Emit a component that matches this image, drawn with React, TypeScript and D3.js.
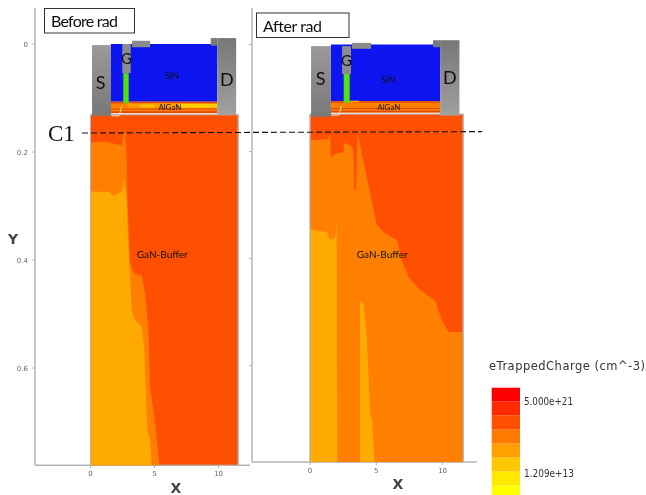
import React from "react";
import * as d3 from "d3";

type Pt = [number, number];
type Box = [number, number, number, number];

// Colour levels of eTrappedCharge (top of the scale first)
const legendColors = ["#ff0000", "#ff2a00", "#ff5000", "#ff7800", "#ffa000", "#ffc800", "#ffe800", "#ffff00"];
const legendLabels = ["5.000e+21", "1.209e+13"];
const xTicks = [0, 5, 10];
const yTicks = [0, 0.2, 0.4, 0.6];

const GAN_TOP_B = 0.131;
const GAN_TOP_A = 0.13;
const Y_END = 0.78;
const X_END_B = 11.53;
const X_END_A = 11.55;

// Before rad: contour regions in (X, Y)
const beforeOrange: Pt[] = [[0, 0.182], [1.27, 0.181], [1.91, 0.185], [2.44, 0.187], [2.56, 0.17], [2.7, 0.159], [2.83, 0.221], [2.88, 0.283], [3.09, 0.406], [3.4, 0.425], [4.0, 0.429], [4.26, 0.462], [4.52, 0.524], [4.65, 0.635], [5.04, 0.702], [5.38, 0.78], [0, 0.78]];
const beforeAmber: Pt[] = [[0, 0.273], [1.52, 0.274], [1.78, 0.281], [2.44, 0.273], [2.64, 0.252], [2.83, 0.289], [2.95, 0.375], [3.09, 0.431], [3.22, 0.493], [3.48, 0.512], [4.0, 0.524], [4.18, 0.56], [4.44, 0.715], [4.65, 0.733], [4.78, 0.78], [0, 0.78]];

// After rad: contour regions in (X, Y)
const afterOrange: Pt[] = [[0, 0.179], [1.38, 0.177], [1.51, 0.166], [1.58, 0.21], [2.01, 0.203], [2.52, 0.202], [2.59, 0.183], [3.14, 0.191], [3.27, 0.203], [3.35, 0.272], [3.47, 0.272], [3.6, 0.166], [3.9, 0.203], [4.28, 0.247], [4.65, 0.291], [5.03, 0.337], [5.66, 0.353], [6.54, 0.365], [6.92, 0.403], [7.42, 0.434], [8.18, 0.456], [9.43, 0.479], [9.94, 0.515], [10.44, 0.537], [11.55, 0.537], [11.55, 0.78], [0, 0.78]];
const afterAmberA: Pt[] = [[0, 0.344], [0.5, 0.348], [1.26, 0.35], [1.51, 0.365], [1.89, 0.362], [2.01, 0.328], [2.06, 0.78], [0, 0.78]];
const afterAmberB: Pt[] = [[3.77, 0.479], [4.03, 0.484], [4.28, 0.546], [4.53, 0.689], [4.7, 0.702], [4.86, 0.78], [3.77, 0.78]];

// Device stack, boxes as [x0, x1, y0, y1]
const before = {
  sin: [1.6, 9.9, 0, 0.107] as Box, source: [0.12, 1.6, 0.002, 0.133] as Box, drain: [9.9, 11.37, -0.011, 0.131] as Box,
  tab: [9.39, 9.9, -0.011, 0.003] as Box, gate: [2.48, 3.14, 0, 0.054] as Box, stem: [2.56, 2.98, 0.054, 0.11] as Box,
  plate: [3.24, 4.65, -0.006, 0.006] as Box, algan: [1.6, 9.9, 0.107, 0.128] as Box,
};
const after = {
  sin: [1.58, 9.81, 0, 0.107] as Box, source: [0.08, 1.58, 0.003, 0.135] as Box, drain: [9.81, 11.27, -0.008, 0.133] as Box,
  tab: [9.28, 9.81, -0.008, 0.005] as Box, gate: [2.42, 3.09, 0.003, 0.055] as Box, stem: [2.54, 2.99, 0.055, 0.109] as Box,
  plate: [3.17, 4.6, -0.003, 0.008] as Box, algan: [1.58, 9.81, 0.106, 0.127] as Box,
};
const beforeGlow: Box[] = [[2.9, 9.9, 0.11, 0.118], [6.9, 9.9, 0.111, 0.118], [3.9, 5.0, 0.112, 0.118]];
const beforeGlowFill = ["#ff9c00", "#ffd000", "#ffc000"];
const afterGlow: Box[] = [[3.0, 3.7, 0.105, 0.108]];
const afterGlowFill = ["#ffb000"];

const GRAY = "#b4b4b4";
const TICK = "#666";
const LABEL_FONT = "'DejaVu Sans', sans-serif";
const BODY_FONT = "Lato, 'Open Sans', sans-serif";

function Device({ d, x, y, glow, glowFill, gaTop, end, regions, labels, showYLabels, ax }: any) {
  const rect = (b: Box, fill: string, key: string) => (
    <rect key={key} x={x(b[0])} width={x(b[1]) - x(b[0])} y={y(b[2])} height={y(b[3]) - y(b[2])} fill={fill} />
  );
  const line = d3.line<Pt>().x((p) => x(p[0])).y((p) => y(p[1]));
  const al: Box = d.algan;
  const alH = al[3] - al[2];
  return (
    <g>
      {/* axes */}
      <line x1={ax.left} x2={ax.left} y1={ax.top} y2={y(Y_END)} stroke={GRAY} strokeWidth={1.5} />
      <line x1={ax.left} x2={ax.right} y1={y(Y_END)} y2={y(Y_END)} stroke={GRAY} strokeWidth={1.5} />
      {yTicks.map((t) => (
        <g key={t}>
          <line x1={ax.left - 3} x2={ax.left} y1={y(t)} y2={y(t)} stroke={GRAY} />
          {showYLabels && (
            <text x={ax.left - 7} y={y(t) + 2.5} textAnchor="end" fontSize={7} fill={TICK} fontFamily={LABEL_FONT}>{t}</text>
          )}
        </g>
      ))}
      {xTicks.map((t) => (
        <g key={t}>
          <line x1={x(t)} x2={x(t)} y1={y(Y_END)} y2={y(Y_END) + 3} stroke={GRAY} />
          <text x={x(t)} y={y(Y_END) + 11} textAnchor="middle" fontSize={7} fill={TICK} fontFamily={LABEL_FONT}>{t}</text>
        </g>
      ))}
      {/* GaN buffer */}
      <rect x={x(0)} width={x(end) - x(0)} y={y(gaTop)} height={y(Y_END) - y(gaTop)} fill="#ff5000" stroke={GRAY} strokeWidth={1} />
      {regions.map((r: any, i: number) => (
        <path key={i} d={(line(r.pts) ?? "") + "Z"} fill={r.fill} />
      ))}
      <line x1={x(0)} x2={x(0)} y1={y(gaTop)} y2={y(Y_END)} stroke={GRAY} />
      <line x1={x(end)} x2={x(end)} y1={y(gaTop)} y2={y(Y_END)} stroke={GRAY} />
      {/* device stack */}
      {rect(d.sin, "#0a14f0", "sin")}
      {rect(al, "#ff7f00", "al")}
      {rect([al[0], al[1], al[2], al[2] + alH * 0.14], "#e84a00", "al1")}
      {rect([al[0], al[1], al[2] + alH * 0.6, al[2] + alH * 0.68], "#d84a00", "al2")}
      {rect([al[0], al[1], al[2] + alH * 0.84, al[3]], "#e04800", "al3")}
      {glow.map((g: Box, i: number) => rect(g, glowFill[i], "gl" + i))}
      {rect(d.stem, "#55e010", "stem")}
      <defs>
        <linearGradient id={"metal" + ax.left} x1="0" x2="0" y1="0" y2="1">
          <stop offset="0" stopColor="#9a9a9a" />
          <stop offset="1" stopColor="#787878" />
        </linearGradient>
        <linearGradient id={"metalD" + ax.left} x1="0" x2="0" y1="0" y2="1">
          <stop offset="0" stopColor="#787878" />
          <stop offset="1" stopColor="#a0a0a0" />
        </linearGradient>
      </defs>
      {rect(d.source, `url(#metal${ax.left})`, "s")}
      {rect(d.drain, `url(#metalD${ax.left})`, "d")}
      {rect(d.tab, "#7a7a7a", "tab")}
      {rect(d.gate, "#8c8c8c", "g")}
      {rect(d.plate, "#8c8c8c", "p")}
      <path d={(line([[d.source[1] + 0.05, al[3] + 0.005], [d.gate[0] - 0.25, al[3] + 0.005], [d.gate[0] - 0.05, al[3] - 0.012]]) ?? "")} fill="none" stroke="#ffd8c8" strokeWidth={1} />
      {labels.map((l: any) => (
        <text key={l.t} x={x(l.x)} y={y(l.y)} textAnchor="middle" dominantBaseline="middle" fontSize={l.s} fontFamily={BODY_FONT} fill="#111">{l.t}</text>
      ))}
    </g>
  );
}

export default function App() {
  const bx = d3.scaleLinear().domain([0, 10]).range([90.5, 218.6]);
  const by = d3.scaleLinear().domain([0, 0.6]).range([44, 368]);
  const ax = d3.scaleLinear().domain([0, 10]).range([310, 442.6]);
  const ay = d3.scaleLinear().domain([0, 0.6]).range([44.5, 365.6]);
  const band = d3.scaleBand<string>().domain(legendColors).range([387.7, 499.7]);
  return (
    <svg width={646} height={495} style={{ position: "absolute", left: 0, top: 0, background: "#fff" }}>
      <defs>
        <filter id="soft" x="0" y="0" width="100%" height="100%">
          <feGaussianBlur stdDeviation="0.45" />
        </filter>
      </defs>
      <g filter="url(#soft)">
        <rect width={646} height={495} fill="#fff" />
        <Device
          d={before} x={bx} y={by} glow={beforeGlow} glowFill={beforeGlowFill} gaTop={GAN_TOP_B} end={X_END_B} showYLabels
          ax={{ left: 35, right: 250, top: 8 }}
          regions={[{ pts: beforeOrange, fill: "#ff7f00" }, { pts: beforeAmber, fill: "#ffaa00" }]}
          labels={[
            { t: "S", x: 0.8, y: 0.074, s: 18 }, { t: "G", x: 2.8, y: 0.03, s: 15 }, { t: "D", x: 10.65, y: 0.07, s: 18 },
            { t: "SiN", x: 6.35, y: 0.061, s: 9.5 }, { t: "AlGaN", x: 6.2, y: 0.119, s: 8 }, { t: "GaN-Buffer", x: 5.6, y: 0.392, s: 10 },
          ]}
        />
        <Device
          d={after} x={ax} y={ay} glow={afterGlow} glowFill={afterGlowFill} gaTop={GAN_TOP_A} end={X_END_A}
          ax={{ left: 252, right: 477, top: 8 }}
          regions={[{ pts: afterOrange, fill: "#ff7f00" }, { pts: afterAmberA, fill: "#ffaa00" }, { pts: afterAmberB, fill: "#ffaa00" }]}
          labels={[
            { t: "S", x: 0.8, y: 0.068, s: 18 }, { t: "G", x: 2.75, y: 0.033, s: 15 }, { t: "D", x: 10.55, y: 0.065, s: 18 },
            { t: "SiN", x: 5.9, y: 0.067, s: 9.5 }, { t: "AlGaN", x: 5.95, y: 0.118, s: 8 }, { t: "GaN-Buffer", x: 5.45, y: 0.394, s: 10 },
          ]}
        />
        <text x={13} y={244} textAnchor="middle" fontSize={14} fontWeight="bold" fill="#444" fontFamily={LABEL_FONT}>Y</text>
        <text x={176} y={493} textAnchor="middle" fontSize={14} fontWeight="bold" fill="#444" fontFamily={LABEL_FONT}>X</text>
        <text x={398} y={489} textAnchor="middle" fontSize={14} fontWeight="bold" fill="#444" fontFamily={LABEL_FONT}>X</text>

        <rect x={44.5} y={8.5} width={90} height={24.5} fill="#fff" stroke="#333" />
        <text x={51} y={27} fontSize={16} fontFamily={BODY_FONT} fill="#111" textLength={67}>Before rad</text>
        <rect x={256.5} y={13} width={92.5} height={24.5} fill="#fff" stroke="#333" />
        <text x={263} y={31.5} fontSize={16} fontFamily={BODY_FONT} fill="#111" textLength={59}>After rad</text>

        <text x={48} y={141} fontSize={23} fontFamily="'Liberation Serif', serif" fill="#111">C1</text>
        <line x1={82} y1={133} x2={482} y2={131.6} stroke="#111" strokeWidth={1.1} strokeDasharray="6 3" />

        <text x={489} y={370} fontSize={11.5} fill="#333" fontFamily={LABEL_FONT} textLength={156}>eTrappedCharge (cm^-3)</text>
        {legendColors.map((c) => (
          <rect key={c} x={491.7} y={band(c)} width={28.3} height={band.bandwidth()} fill={c} />
        ))}
        <text x={524} y={405} fontSize={10.5} fill="#333" fontFamily={LABEL_FONT} textLength={49} lengthAdjust="spacingAndGlyphs">{legendLabels[0]}</text>
        <text x={524} y={477} fontSize={10.5} fill="#333" fontFamily={LABEL_FONT} textLength={50} lengthAdjust="spacingAndGlyphs">{legendLabels[1]}</text>
      </g>
    </svg>
  );
}
